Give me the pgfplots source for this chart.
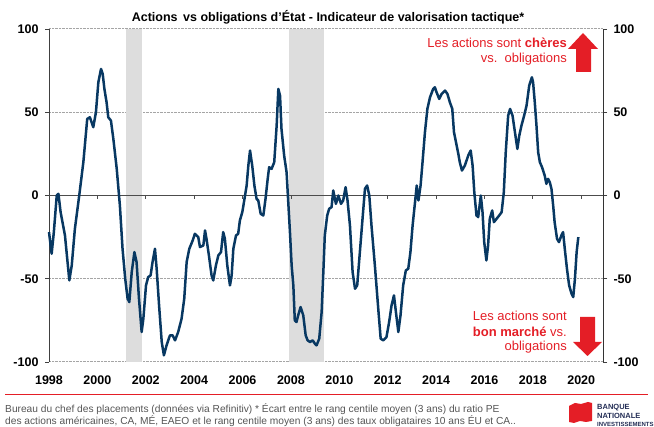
\documentclass[border=0pt]{standalone}
\usepackage{fontspec}
\setmainfont{Liberation Sans}
\usepackage{pgfplots}
\pgfplotsset{compat=1.18}
\definecolor{navy}{RGB}{8,56,98}
\definecolor{bnred}{RGB}{228,30,38}
\definecolor{shade}{RGB}{221,221,221}
\definecolor{gridc}{RGB}{165,165,165}
\definecolor{foot}{RGB}{85,85,85}
\definecolor{logoblue}{RGB}{35,45,85}
\begin{document}
\begin{tikzpicture}[x=1pt,y=1pt]
\useasboundingbox (0,0) rectangle (654,427);
\begin{axis}[
  at={(49pt,65pt)}, anchor=south west, width=554pt, height=333pt, scale only axis,
  xmin=1998, xmax=2020.9, ymin=-100, ymax=100,
  separate axis lines,
  x axis line style={draw=none},
  y axis line style={draw=black!75, line width=0.8pt},
  xtick={1998,2000,2002,2004,2006,2008,2010,2012,2014,2016,2018,2020},
  xticklabels={1998,2000,2002,2004,2006,2008,2010,2012,2014,2016,2018,2020},
  xtick style={draw=none},
  ytick={-100,-50,0,50,100},
  yticklabels={-100,-50,0,50,100},
  ytick pos=both, yticklabel pos=left,
  tick align=outside, major tick length=4pt,
  ytick style={draw=black!75, line width=0.8pt},
  ymajorgrids, grid style={gridc, densely dotted, line width=1pt},
  ticklabel style={font=\fontsize{12.5}{14}\selectfont\bfseries},
  yticklabel style={xshift=-3pt},
  xticklabel style={yshift=-6pt},
  clip=false,
]
\addplot[fill=shade, draw=none] coordinates {(2001.17,-100) (2001.17,100) (2001.83,100) (2001.83,-100)} -- cycle;
\addplot[fill=shade, draw=none] coordinates {(2007.90,-100) (2007.90,100) (2009.36,100) (2009.36,-100)} -- cycle;
\draw[black!70, line width=1pt] (axis cs:1998,0) -- (axis cs:2020.9,0);
\pgfplotsinvokeforeach{2000,2002,2004,2006,2008,2010,2012,2014,2016,2018,2020}{
  \draw[black!70, line width=0.8pt] (axis cs:#1,0) -- ++(0pt,-3.5pt);
}
\addplot[navy, line width=2.5pt, line join=round] coordinates {
(1998.00,-22) (1998.11,-35) (1998.20,-22) (1998.32,0) (1998.39,1) (1998.48,-10)
(1998.66,-24) (1998.84,-51) (1998.94,-42) (1999.07,-20) (1999.25,0) (1999.42,20)
(1999.58,46) (1999.69,47) (1999.83,41) (1999.94,50) (2000.04,68) (2000.15,76)
(2000.22,73) (2000.29,64) (2000.38,56) (2000.45,47) (2000.56,45) (2000.66,34)
(2000.80,16) (2000.93,-6) (2001.04,-32) (2001.15,-50) (2001.25,-62) (2001.32,-64)
(2001.42,-46) (2001.53,-34) (2001.62,-40) (2001.72,-62) (2001.83,-82) (2001.90,-74)
(2002.01,-54) (2002.10,-49) (2002.20,-48) (2002.28,-40) (2002.38,-32) (2002.45,-44)
(2002.55,-66) (2002.66,-88) (2002.75,-96) (2002.86,-90) (2003.00,-84) (2003.11,-84)
(2003.21,-87) (2003.34,-82) (2003.48,-74) (2003.59,-62) (2003.69,-40) (2003.80,-32)
(2003.94,-27) (2004.03,-23) (2004.17,-25) (2004.24,-31) (2004.38,-30) (2004.45,-21)
(2004.51,-26) (2004.61,-36) (2004.72,-48) (2004.79,-51) (2004.90,-42) (2005.00,-36)
(2005.11,-34) (2005.20,-22) (2005.27,-26) (2005.37,-42) (2005.48,-54) (2005.55,-48)
(2005.62,-32) (2005.73,-24) (2005.82,-23) (2005.89,-15) (2005.99,-10) (2006.07,-3)
(2006.17,6) (2006.24,18) (2006.31,27) (2006.40,18) (2006.49,6) (2006.58,-2)
(2006.65,-3) (2006.75,-11) (2006.86,-12) (2006.95,-2) (2007.04,10) (2007.10,17)
(2007.20,16) (2007.31,20) (2007.41,42) (2007.48,64) (2007.55,60) (2007.61,40)
(2007.72,24) (2007.82,14) (2007.89,-4) (2007.96,-22) (2008.03,-42) (2008.10,-54)
(2008.16,-75) (2008.23,-76) (2008.30,-72) (2008.40,-67) (2008.51,-72) (2008.61,-84)
(2008.69,-87) (2008.79,-88) (2008.90,-87) (2008.99,-89) (2009.06,-90) (2009.17,-86)
(2009.27,-70) (2009.34,-46) (2009.40,-24) (2009.50,-12) (2009.58,-8) (2009.68,-7)
(2009.75,3) (2009.86,-5) (2009.96,0) (2010.07,-5) (2010.16,-3) (2010.26,5)
(2010.34,-3) (2010.44,-18) (2010.55,-46) (2010.65,-56) (2010.74,-54) (2010.85,-34)
(2010.96,-14) (2011.06,4) (2011.15,6) (2011.24,0) (2011.33,-18) (2011.47,-42)
(2011.61,-68) (2011.71,-86) (2011.82,-87) (2011.95,-85) (2012.06,-76) (2012.16,-66)
(2012.26,-60) (2012.34,-70) (2012.44,-82) (2012.53,-72) (2012.64,-54) (2012.75,-45)
(2012.85,-44) (2012.94,-34) (2013.03,-18) (2013.13,-4) (2013.20,6) (2013.27,-3)
(2013.36,6) (2013.44,20) (2013.54,38) (2013.64,52) (2013.75,59) (2013.88,64)
(2013.95,65) (2014.02,62) (2014.13,58) (2014.23,61) (2014.37,63) (2014.47,61)
(2014.57,56) (2014.67,52) (2014.74,38) (2014.85,30) (2014.92,25) (2014.98,20)
(2015.07,15) (2015.19,18) (2015.33,24) (2015.43,27) (2015.51,18) (2015.58,2)
(2015.67,-12) (2015.74,-13) (2015.85,0) (2015.92,-10) (2015.99,-28) (2016.08,-39)
(2016.15,-30) (2016.22,-14) (2016.32,-9) (2016.39,-16) (2016.50,-14) (2016.61,-12)
(2016.71,-10) (2016.80,2) (2016.88,26) (2016.98,48) (2017.06,52) (2017.16,48)
(2017.26,38) (2017.36,28) (2017.44,36) (2017.53,42) (2017.64,48) (2017.74,54)
(2017.85,66) (2017.96,71) (2018.01,68) (2018.08,56) (2018.15,42) (2018.22,26)
(2018.29,20) (2018.38,17) (2018.49,12) (2018.56,7) (2018.63,10) (2018.70,8)
(2018.77,4) (2018.84,-6) (2018.90,-16) (2019.00,-26) (2019.08,-28) (2019.18,-24)
(2019.25,-22) (2019.32,-32) (2019.41,-44) (2019.50,-54) (2019.60,-59) (2019.67,-61)
(2019.74,-50) (2019.81,-34) (2019.88,-25)
};
\end{axis}
\begin{axis}[
  at={(49pt,65pt)}, anchor=south west, width=554pt, height=333pt, scale only axis,
  xmin=1998, xmax=2020.9, ymin=-100, ymax=100,
  axis x line=none, axis y line*=right,
  y axis line style={draw=black!80, line width=0.8pt},
  ytick={-100,-50,0,50,100},
  yticklabels={-100,-50,0,50,100},
  tick align=outside, major tick length=4pt,
  ytick style={draw=black!75, line width=0.8pt},
  ticklabel style={font=\fontsize{12.5}{14}\selectfont\bfseries},
  yticklabel style={xshift=3pt},
]
\addplot[draw=none] coordinates {(2000,0)};
\end{axis}
% title
\node[font=\fontsize{12.5}{14}\selectfont\bfseries] at (328,410) {Actions\, vs obligations d\char39 État - Indicateur de valorisation tactique*};
% annotations
\node[anchor=east, text=bnred, font=\fontsize{13}{15}\selectfont, inner sep=0pt] at (567,384) {Les actions sont \textbf{chères}};
\node[anchor=east, text=bnred, font=\fontsize{13}{15}\selectfont, inner sep=0pt] at (567,368) {vs.\ \ obligations};
\node[anchor=east, text=bnred, font=\fontsize{13}{15}\selectfont, inner sep=0pt] at (567,111) {Les actions sont};
\node[anchor=east, text=bnred, font=\fontsize{13}{15}\selectfont, inner sep=0pt] at (567,95.5) {\textbf{bon marché} vs.};
\node[anchor=east, text=bnred, font=\fontsize{13}{15}\selectfont, inner sep=0pt] at (567,80) {obligations};
% arrows
\fill[bnred] (583,394) -- (598,378) -- (591,378) -- (591,355) -- (576,355) -- (576,378) -- (568,378) -- cycle;
\fill[bnred] (587.5,71) -- (602,85) -- (595,85) -- (595,110) -- (580,110) -- (580,85) -- (573,85) -- cycle;
% footer
\draw[bnred, line width=1.6pt] (5,32.5) -- (648,32.5);
\node[anchor=west, text=foot, font=\fontsize{10.2}{11}\selectfont, inner sep=0pt] at (5,18) {Bureau du chef des placements (données via Refinitiv) * Écart entre le rang centile moyen (3 ans) du ratio PE};
\node[anchor=west, text=foot, font=\fontsize{10.2}{11}\selectfont, inner sep=0pt] at (5,5.5) {des actions américaines, CA, MÉ, EAEO et le rang centile moyen (3 ans) des taux obligataires 10 ans ÉU et CA..};
% logo
\fill[bnred] (569,21) -- (575,24) -- (581,23) -- (588,25) -- (592,24) -- (592,6) -- (586,5) -- (580,6) -- (574,4) -- (569,5) -- cycle;
\node[anchor=west, text=logoblue, font=\fontsize{7.5}{8}\selectfont\bfseries, inner sep=0pt] at (597,19) {BANQUE};
\node[anchor=west, text=logoblue, font=\fontsize{7.5}{8}\selectfont\bfseries, inner sep=0pt] at (597,11) {NATIONALE};
\node[anchor=west, text=logoblue, font=\fontsize{6}{7}\selectfont\bfseries, inner sep=0pt] at (597,2.5) {INVESTISSEMENTS};
\end{tikzpicture}
\end{document}
